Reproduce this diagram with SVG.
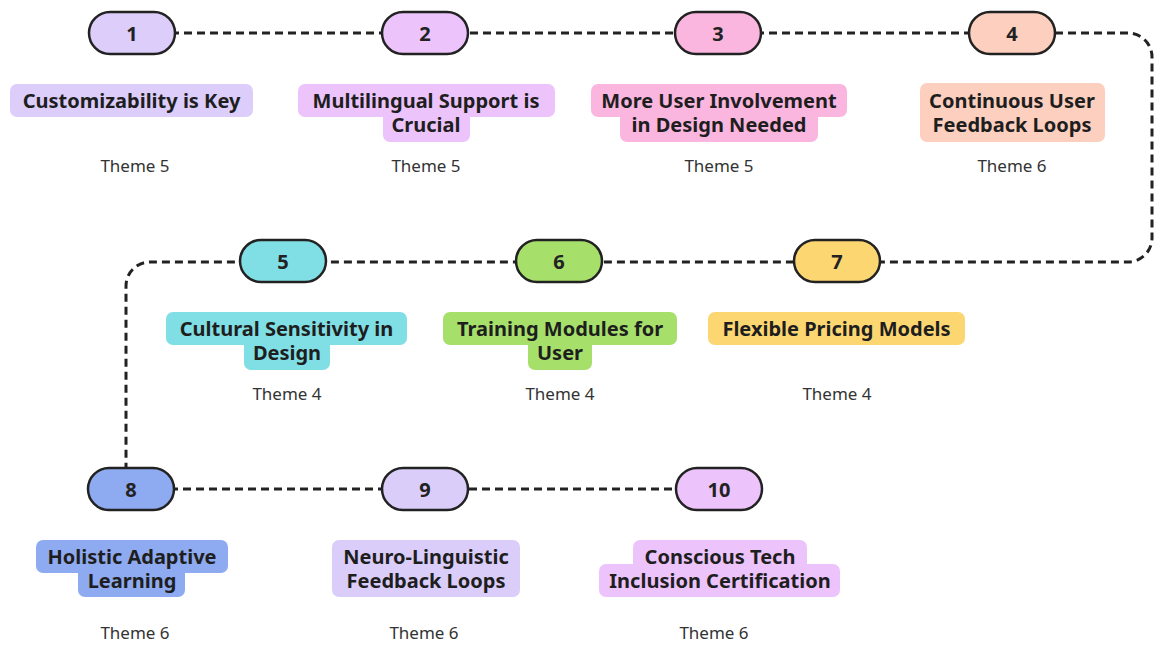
<svg xmlns="http://www.w3.org/2000/svg" width="1154" height="645" viewBox="0 0 1154 645">
<style>
.bg{fill:#ffffff}
.conn{fill:none;stroke:#222;stroke-width:3;stroke-dasharray:8 5}
.pill{stroke:#222;stroke-width:2.5}
.num{font-family:"Noto Sans","Liberation Sans",sans-serif;font-weight:700;font-size:20px;fill:#222;text-anchor:middle;dominant-baseline:central}
.lbl{font-family:"Noto Sans","Liberation Sans",sans-serif;font-weight:700;font-size:20px;fill:#1e1e1e;text-anchor:middle;dominant-baseline:central}
.thm{font-family:"Noto Sans","Liberation Sans",sans-serif;font-size:17px;fill:#333;text-anchor:middle;dominant-baseline:central}
.c1{fill:#dccdfb}.c2{fill:#ecc4fb}.c3{fill:#fab6df}.c4{fill:#fccfbe}.c5{fill:#80dee5}
.c6{fill:#a6e06b}.c7{fill:#fcd671}.c8{fill:#8eaaf0}.c9{fill:#dacdfa}.c10{fill:#edc3fb}
</style>
<rect class="bg" x="0" y="0" width="1154" height="645"/>
<g id="connectors">
<path class="conn" d="M132,33 H1128 A24,24 0 0 1 1152,57 V238 A24,24 0 0 1 1128,262 H150 A24,24 0 0 0 126,286 V468"/>
<path class="conn" d="M131,489 H719"/>
</g>
<g id="node1">
<rect class="pill c1" x="89" y="12" width="86" height="42" rx="21"/>
<text class="num" x="132" y="33">1</text>
<rect class="c1" x="10" y="84" width="243" height="33" rx="7"/>
<text class="lbl" x="131.5" y="100">Customizability is Key</text>
<text class="thm" x="135" y="165">Theme 5</text>
</g>
<g id="node2">
<rect class="pill c2" x="382" y="12" width="86" height="42" rx="21"/>
<text class="num" x="425" y="33">2</text>
<rect class="c2" x="298" y="84" width="257" height="33" rx="7"/>
<rect class="c2" x="383" y="108" width="87" height="34" rx="7"/>
<text class="lbl" x="426" y="100">Multilingual Support is<tspan x="426" dy="24">Crucial</tspan></text>
<text class="thm" x="426" y="165">Theme 5</text>
</g>
<g id="node3">
<rect class="pill c3" x="675" y="12" width="86" height="42" rx="21"/>
<text class="num" x="718" y="33">3</text>
<rect class="c3" x="591" y="84" width="256" height="33" rx="7"/>
<rect class="c3" x="620" y="108" width="198" height="34" rx="7"/>
<text class="lbl" x="719" y="100">More User Involvement<tspan x="719" dy="24">in Design Needed</tspan></text>
<text class="thm" x="719" y="165">Theme 5</text>
</g>
<g id="node4">
<rect class="pill c4" x="969" y="12" width="86" height="42" rx="21"/>
<text class="num" x="1012" y="33">4</text>
<rect class="c4" x="920" y="83" width="185" height="59" rx="7"/>
<text class="lbl" x="1012" y="100">Continuous User<tspan x="1012" dy="24">Feedback Loops</tspan></text>
<text class="thm" x="1012" y="165">Theme 6</text>
</g>
<g id="node5">
<rect class="pill c5" x="240" y="240" width="86" height="42" rx="21"/>
<text class="num" x="283" y="261">5</text>
<rect class="c5" x="166" y="312" width="241" height="33" rx="7"/>
<rect class="c5" x="244" y="336" width="86" height="34" rx="7"/>
<text class="lbl" x="286.5" y="328">Cultural Sensitivity in<tspan x="287" dy="24">Design</tspan></text>
<text class="thm" x="287" y="393">Theme 4</text>
</g>
<g id="node6">
<rect class="pill c6" x="516" y="240" width="86" height="42" rx="21"/>
<text class="num" x="559" y="261">6</text>
<rect class="c6" x="443" y="312" width="234" height="33" rx="7"/>
<rect class="c6" x="528" y="336" width="64" height="34" rx="7"/>
<text class="lbl" x="560" y="328">Training Modules for<tspan x="560" dy="24">User</tspan></text>
<text class="thm" x="560" y="393">Theme 4</text>
</g>
<g id="node7">
<rect class="pill c7" x="794" y="240" width="86" height="42" rx="21"/>
<text class="num" x="837" y="261">7</text>
<rect class="c7" x="708" y="312" width="257" height="33" rx="7"/>
<text class="lbl" x="836.5" y="328">Flexible Pricing Models</text>
<text class="thm" x="837" y="393">Theme 4</text>
</g>
<g id="node8">
<rect class="pill c8" x="88" y="468" width="86" height="42" rx="21"/>
<text class="num" x="131" y="489">8</text>
<rect class="c8" x="36" y="540" width="192" height="33" rx="7"/>
<rect class="c8" x="78" y="564" width="107" height="33" rx="7"/>
<text class="lbl" x="132" y="556">Holistic Adaptive<tspan x="132" dy="24">Learning</tspan></text>
<text class="thm" x="135" y="632">Theme 6</text>
</g>
<g id="node9">
<rect class="pill c9" x="382" y="468" width="86" height="42" rx="21"/>
<text class="num" x="425" y="489">9</text>
<rect class="c9" x="332" y="540" width="188" height="57" rx="7"/>
<text class="lbl" x="426" y="556">Neuro-Linguistic<tspan x="426" dy="24">Feedback Loops</tspan></text>
<text class="thm" x="424" y="632">Theme 6</text>
</g>
<g id="node10">
<rect class="pill c10" x="676" y="468" width="86" height="42" rx="21"/>
<text class="num" x="719" y="489">10</text>
<rect class="c10" x="633" y="540" width="174" height="33" rx="7"/>
<rect class="c10" x="599" y="564" width="241" height="33" rx="7"/>
<text class="lbl" x="720" y="556">Conscious Tech<tspan x="720" dy="24">Inclusion Certification</tspan></text>
<text class="thm" x="714" y="632">Theme 6</text>
</g>
</svg>
